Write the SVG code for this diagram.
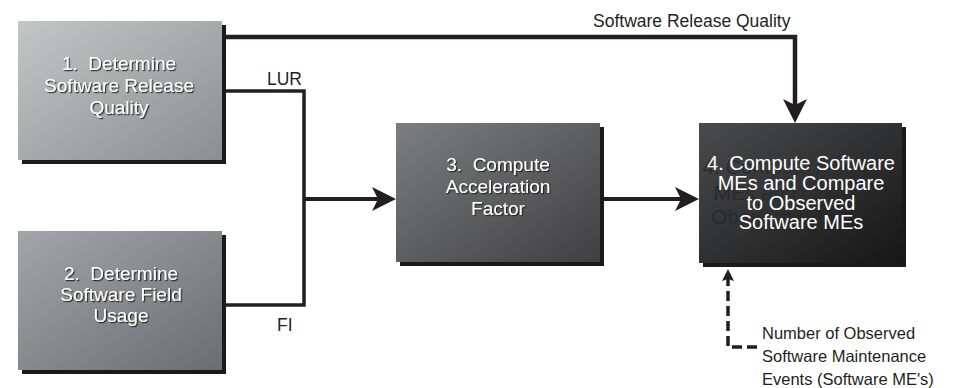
<svg xmlns="http://www.w3.org/2000/svg" width="968" height="388" viewBox="0 0 968 388">
<style>
.box-text{font-family:"Liberation Sans",Arial,sans-serif;font-size:19px;fill:#ffffff;text-anchor:middle;white-space:pre;filter:url(#ts)}
.box4-text{font-family:"Liberation Sans",Arial,sans-serif;font-size:20px;fill:#ffffff;text-anchor:middle}
.ghost{font-family:"Liberation Sans",Arial,sans-serif;font-size:21px;fill:url(#gg);text-anchor:middle}
.label{font-family:"Liberation Sans",Arial,sans-serif;font-size:17.5px;fill:#231f20}
.label-s{font-family:"Liberation Sans",Arial,sans-serif;font-size:16.5px;fill:#231f20}
.shadow{fill:#1a1a1a}
.conn{fill:none;stroke:#231f20;stroke-linejoin:miter}
</style>
<defs>
<linearGradient id="g1" x1="0" y1="0" x2="1" y2="1"><stop offset="0" stop-color="#c4c5c7"/><stop offset="1" stop-color="#8d8e91"/></linearGradient>
<linearGradient id="g2" x1="0" y1="0" x2="1" y2="1"><stop offset="0" stop-color="#a4a5a8"/><stop offset="1" stop-color="#6c6d70"/></linearGradient>
<linearGradient id="g3" x1="0" y1="0" x2="1" y2="1"><stop offset="0" stop-color="#7d7e81"/><stop offset="1" stop-color="#3f3f41"/></linearGradient>
<linearGradient id="g4" x1="0" y1="0" x2="1" y2="1"><stop offset="0" stop-color="#4a4b4d"/><stop offset="1" stop-color="#161616"/></linearGradient>
<linearGradient id="gg" gradientUnits="userSpaceOnUse" x1="700" y1="0" x2="870" y2="0"><stop offset="0" stop-color="#262627" stop-opacity="0.9"/><stop offset="1" stop-color="#262627" stop-opacity="0"/></linearGradient>
<filter id="ts" x="-10%" y="-30%" width="120%" height="160%"><feDropShadow dx="1.2" dy="1.2" stdDeviation="0.4" flood-color="#1a1a1a" flood-opacity="0.9"/></filter>
<marker id="arr" markerUnits="userSpaceOnUse" viewBox="0 0 24 24" markerWidth="24" markerHeight="24" refX="13" refY="12" orient="auto"><path d="M0,0 L24,12 L0,24 L6,12 z" fill="#231f20"/></marker>
<marker id="arr-s" markerUnits="userSpaceOnUse" viewBox="0 0 12 12" markerWidth="12" markerHeight="12" refX="4" refY="6" orient="auto"><path d="M0,0 L12,6 L0,12 L2,6 z" fill="#231f20"/></marker>
</defs>

<g id="connectors">
<path class="conn" d="M222,37 H795 V112" stroke-width="4.5" marker-end="url(#arr)"/>
<path class="conn" d="M222,91 H304 V305 H222" stroke-width="3.5"/>
<path class="conn" d="M304,199 H385" stroke-width="4" marker-end="url(#arr)"/>
<path class="conn" d="M602,199 H688" stroke-width="4" marker-end="url(#arr)"/>
<path class="conn" d="M757,347 H728 V277" stroke-width="3.5" stroke-dasharray="10,5" marker-end="url(#arr-s)"/>
</g>

<g id="labels">
<text class="label" x="593" y="27">Software Release Quality</text>
<text class="label" x="267" y="85">LUR</text>
<text class="label" x="277" y="331">FI</text>
<text class="label-s" x="762" y="339">Number of Observed</text>
<text class="label-s" x="762" y="362">Software Maintenance</text>
<text class="label-s" x="762" y="385">Events (Software ME's)</text>
</g>

<g id="node1">
<rect class="shadow" x="22" y="25" width="204" height="139"/>
<rect x="18" y="21" width="204" height="139" fill="url(#g1)"/>
<text class="box-text" x="119" y="70">1.  Determine</text>
<text class="box-text" x="119" y="92">Software Release</text>
<text class="box-text" x="119" y="114">Quality</text>
</g>

<g id="node2">
<rect class="shadow" x="22" y="235" width="204" height="139"/>
<rect x="18" y="231" width="204" height="139" fill="url(#g2)"/>
<text class="box-text" x="121" y="280">2.  Determine</text>
<text class="box-text" x="121" y="301">Software Field</text>
<text class="box-text" x="121" y="322">Usage</text>
</g>

<g id="node3">
<rect class="shadow" x="400" y="127" width="204" height="139"/>
<rect x="396" y="123" width="204" height="139" fill="url(#g3)"/>
<text class="box-text" x="498" y="171">3.  Compute</text>
<text class="box-text" x="498" y="193">Acceleration</text>
<text class="box-text" x="498" y="215">Factor</text>
</g>

<g id="node4">
<rect class="shadow" x="703" y="127" width="203" height="140"/>
<rect x="699" y="123" width="203" height="140" fill="url(#g4)"/>
<text class="ghost" x="801" y="174">4. Compute Software</text>
<text class="ghost" x="801" y="200">MEs and Compare</text>
<text class="ghost" x="801" y="224">Observed Software</text>
<text class="box4-text" x="801" y="170">4. Compute Software</text>
<text class="box4-text" x="801" y="190">MEs and Compare</text>
<text class="box4-text" x="801" y="210">to Observed</text>
<text class="box4-text" x="801" y="229">Software MEs</text>
</g>
</svg>
